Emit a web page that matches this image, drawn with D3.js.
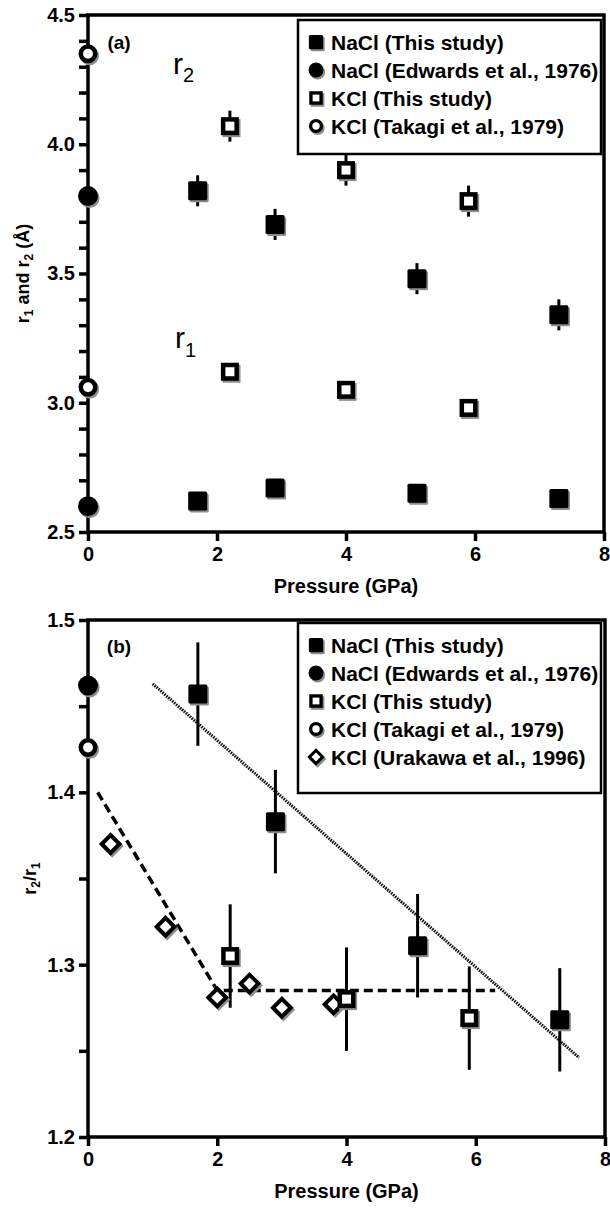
<!DOCTYPE html>
<html>
<head>
<meta charset="utf-8">
<script src="https://cdn.jsdelivr.net/npm/d3@7"></script>
<style>
body { margin: 0; background: #fff; }
svg text { font-family: "Liberation Sans", Arial, Helvetica, sans-serif; fill: #000; }
</style>
</head>
<body>
<script>
// ---- panel (a): r1 and r2 (A) vs pressure (GPa)
const pNaCl = [1.7, 2.9, 5.1, 7.3];
const r2NaCl = [3.82, 3.69, 3.48, 3.34];
const r2NaClErr = [0.06, 0.06, 0.06, 0.06];
const r1NaCl = [2.62, 2.67, 2.65, 2.63];

const pKCl = [2.2, 4.0, 5.9];
const r2KCl = [4.07, 3.90, 3.78];
const r2KClErr = [0.06, 0.06, 0.06];
const r1KCl = [3.12, 3.05, 2.98];

const pRef = [0];
const r2Edwards = [3.80];
const r1Edwards = [2.60];
const r2Takagi = [4.35];
const r1Takagi = [3.06];

// ---- panel (b): r2/r1 vs pressure
const ratioNaCl = [1.457, 1.383, 1.311, 1.268];
const ratioNaClErr = [0.03, 0.03, 0.03, 0.03];
const ratioKCl = [1.305, 1.280, 1.269];
const ratioKClErr = [0.03, 0.03, 0.03];
const ratioEdwards = [1.462];
const ratioTakagi = [1.426];
const pUrakawa = [0.35, 1.2, 2.0, 2.5, 3.0, 3.8];
const ratioUrakawa = [1.370, 1.322, 1.281, 1.289, 1.275, 1.277];

// fitted lines
const fitNaClP = [1.0, 7.6];
const fitNaClR = [1.463, 1.246];
const fitKClP = [0.15, 2.0, 6.3];
const fitKClR = [1.400, 1.285, 1.285];

// axis ticks
const xTicks = [0, 2, 4, 6, 8];
const yTicksA = [2.5, 3.0, 3.5, 4.0, 4.5];
const yMinorA = [2.6, 2.7, 2.8, 2.9, 3.1, 3.2, 3.3, 3.4, 3.6, 3.7, 3.8, 3.9, 4.1, 4.2, 4.3, 4.4];
const yTicksB = [1.2, 1.3, 1.4, 1.5];
const yMinorB = [1.25, 1.35, 1.45];

const legendA = [
  ["sqFill", "NaCl (This study)"],
  ["cFill", "NaCl (Edwards et al., 1976)"],
  ["sqOpen", "KCl (This study)"],
  ["cOpen", "KCl (Takagi et al., 1979)"]
];
const legendB = legendA.concat([["dOpen", "KCl (Urakawa et al., 1996)"]]);

const svg = d3.select("body").append("svg")
  .attr("width", 610)
  .attr("height", 1209);

// marker with a grey drop shadow, like the scanned figure
function marker(g, type, x, y, s) {
  const layers = [["#8c8c8c", 1.6, 2], ["#000", 0, 0]];
  layers.forEach(([col, dx, dy]) => {
    const cx = x + dx, cy = y + dy;
    if (type === "sqFill") {
      const a = 19 * s;
      g.append("rect").attr("x", cx - a / 2).attr("y", cy - a / 2)
        .attr("width", a).attr("height", a).attr("rx", 1.5).attr("fill", col);
    } else if (type === "cFill") {
      g.append("circle").attr("cx", cx).attr("cy", cy).attr("r", 10 * s).attr("fill", col);
    } else if (type === "sqOpen") {
      const a = 13.5 * s;
      g.append("rect").attr("x", cx - a / 2).attr("y", cy - a / 2)
        .attr("width", a).attr("height", a)
        .attr("fill", "#fff").attr("stroke", col).attr("stroke-width", 4.5 * s);
    } else if (type === "cOpen") {
      g.append("circle").attr("cx", cx).attr("cy", cy).attr("r", 7.2 * s)
        .attr("fill", "#fff").attr("stroke", col).attr("stroke-width", 4.5 * s);
    } else if (type === "dOpen") {
      const a = 12.5 * s;
      g.append("rect").attr("x", -a / 2).attr("y", -a / 2)
        .attr("width", a).attr("height", a)
        .attr("transform", `translate(${cx},${cy}) rotate(45)`)
        .attr("fill", "#fff").attr("stroke", col).attr("stroke-width", 4 * s);
    }
  });
}

function errorBars(g, x, y, px, vals, errs) {
  g.selectAll(null).data(vals).enter().append("line")
    .attr("x1", (d, i) => x(px[i])).attr("x2", (d, i) => x(px[i]))
    .attr("y1", (d, i) => y(d - errs[i])).attr("y2", (d, i) => y(d + errs[i]))
    .attr("stroke", "#000").attr("stroke-width", 3);
}

function points(g, x, y, px, vals, type) {
  vals.forEach((d, i) => marker(g, type, x(px[i]), y(d), 1));
}

function frame(g, x, y, yTicks, yMinor) {
  const [x0, x1] = x.range();
  const [y1, y0] = y.range();

  const ya = g.append("g").attr("transform", `translate(${x0},0)`)
    .call(d3.axisLeft(y).tickValues(yTicks).tickSize(9).tickPadding(4)
      .tickFormat(d3.format(".1f")));
  const ym = g.append("g").attr("transform", `translate(${x0},0)`)
    .call(d3.axisLeft(y).tickValues(yMinor).tickSize(9).tickFormat(""));
  const xa = g.append("g").attr("transform", `translate(0,${y1})`)
    .call(d3.axisBottom(x).tickValues(xTicks).tickSize(9).tickPadding(6)
      .tickFormat(d3.format("d")));

  [ya, ym, xa].forEach(a => {
    a.select(".domain").remove();
    a.selectAll("line").attr("stroke", "#000").attr("stroke-width", 3.5);
    a.selectAll("text").attr("font-size", 20).attr("font-weight", "bold")
      .attr("fill", "#000").attr("font-family", "Liberation Sans, Arial, sans-serif");
  });

  g.append("rect").attr("x", x0).attr("y", y0)
    .attr("width", x1 - x0).attr("height", y1 - y0)
    .attr("fill", "none").attr("stroke", "#000").attr("stroke-width", 3.5);

  g.append("text").attr("x", (x0 + x1) / 2).attr("y", y1 + 61)
    .attr("text-anchor", "middle").attr("font-size", 20).attr("font-weight", "bold")
    .text("Pressure (GPa)");
}

function legend(g, items, left, top, w, h) {
  g.append("rect").attr("x", left).attr("y", top).attr("width", w).attr("height", h)
    .attr("fill", "#fff").attr("stroke", "#000").attr("stroke-width", 2.5);
  items.forEach(([type, label], i) => {
    const cy = top + 22 + i * 28;
    marker(g, type, left + 18, cy, 0.75);
    g.append("text").attr("x", left + 33).attr("y", cy).attr("dy", "0.36em")
      .attr("font-size", 21).attr("font-weight", "bold").text(label);
  });
}

// ================= panel (a)
const xA = d3.scaleLinear().domain([0, 8]).range([88, 604]);
const yA = d3.scaleLinear().domain([2.5, 4.5]).range([532, 15]);
const gA = svg.append("g");

errorBars(gA, xA, yA, pNaCl, r2NaCl, r2NaClErr);
errorBars(gA, xA, yA, pKCl, r2KCl, r2KClErr);
frame(gA, xA, yA, yTicksA, yMinorA);

points(gA, xA, yA, pNaCl, r2NaCl, "sqFill");
points(gA, xA, yA, pNaCl, r1NaCl, "sqFill");
points(gA, xA, yA, pKCl, r2KCl, "sqOpen");
points(gA, xA, yA, pKCl, r1KCl, "sqOpen");
points(gA, xA, yA, pRef, r2Edwards, "cFill");
points(gA, xA, yA, pRef, r1Edwards, "cFill");
points(gA, xA, yA, pRef, r2Takagi, "cOpen");
points(gA, xA, yA, pRef, r1Takagi, "cOpen");

legend(gA, legendA, 298, 20, 303, 134);

gA.append("text").attr("x", 119).attr("y", 49).attr("text-anchor", "middle")
  .attr("font-size", 19).attr("font-weight", "bold").text("(a)");

const r2Lbl = gA.append("text").attr("x", 173).attr("y", 74).attr("font-size", 30);
r2Lbl.append("tspan").text("r");
r2Lbl.append("tspan").attr("font-size", 20).attr("dy", 8).text("2");
const r1Lbl = gA.append("text").attr("x", 175).attr("y", 348).attr("font-size", 30);
r1Lbl.append("tspan").text("r");
r1Lbl.append("tspan").attr("font-size", 20).attr("dy", 9).text("1");

const yTitleA = gA.append("text")
  .attr("transform", `translate(29,${(15 + 532) / 2}) rotate(-90)`)
  .attr("text-anchor", "middle").attr("font-size", 18).attr("font-weight", "bold");
yTitleA.append("tspan").text("r");
yTitleA.append("tspan").attr("font-size", 12).attr("dy", 4).text("1");
yTitleA.append("tspan").attr("dy", -4).text(" and r");
yTitleA.append("tspan").attr("font-size", 12).attr("dy", 4).text("2");
yTitleA.append("tspan").attr("dy", -4).text(" (Å)");

// ================= panel (b)
const xB = d3.scaleLinear().domain([0, 8]).range([88, 605]);
const yB = d3.scaleLinear().domain([1.2, 1.5]).range([1137, 620]);
const gB = svg.append("g");

const line = d3.line().x(d => xB(d[0])).y(d => yB(d[1]));
gB.append("path").attr("d", line(d3.zip(fitNaClP, fitNaClR)))
  .attr("fill", "none").attr("stroke", "#111").attr("stroke-width", 3)
  .attr("stroke-dasharray", "1.6,1");
gB.append("path").attr("d", line(d3.zip(fitKClP, fitKClR)))
  .attr("fill", "none").attr("stroke", "#000").attr("stroke-width", 3.5)
  .attr("stroke-dasharray", "9,5");

errorBars(gB, xB, yB, pNaCl, ratioNaCl, ratioNaClErr);
errorBars(gB, xB, yB, pKCl, ratioKCl, ratioKClErr);
frame(gB, xB, yB, yTicksB, yMinorB);

points(gB, xB, yB, pUrakawa, ratioUrakawa, "dOpen");
points(gB, xB, yB, pNaCl, ratioNaCl, "sqFill");
points(gB, xB, yB, pKCl, ratioKCl, "sqOpen");
points(gB, xB, yB, pRef, ratioEdwards, "cFill");
points(gB, xB, yB, pRef, ratioTakagi, "cOpen");

legend(gB, legendB, 298, 623, 303, 170);

gB.append("text").attr("x", 119).attr("y", 653).attr("text-anchor", "middle")
  .attr("font-size", 19).attr("font-weight", "bold").text("(b)");

const yTitleB = gB.append("text")
  .attr("transform", `translate(36,${(620 + 1137) / 2}) rotate(-90)`)
  .attr("text-anchor", "middle").attr("font-size", 18).attr("font-weight", "bold");
yTitleB.append("tspan").text("r");
yTitleB.append("tspan").attr("font-size", 12).attr("dy", 4).text("2");
yTitleB.append("tspan").attr("dy", -4).text("/r");
yTitleB.append("tspan").attr("font-size", 12).attr("dy", 4).text("1");
</script>
</body>
</html>
